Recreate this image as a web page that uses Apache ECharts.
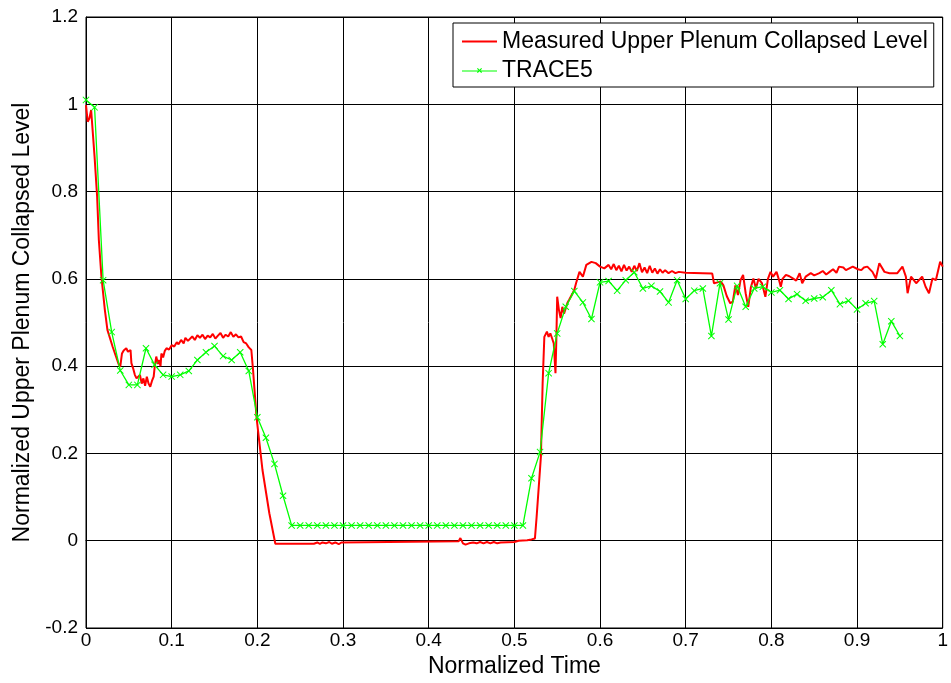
<!DOCTYPE html>
<html>
<head>
<meta charset="utf-8">
<script src="https://cdn.jsdelivr.net/npm/echarts@6/dist/echarts.min.js"></script>
<style>
html,body{margin:0;padding:0;background:#fff;}
#chart{width:951px;height:683px;}
</style>
</head>
<body>
<div id="chart"></div>
<script>
var xTicks = [0, 0.1, 0.2, 0.3, 0.4, 0.5, 0.6, 0.7, 0.8, 0.9, 1];
var yTicks = [-0.2, 0, 0.2, 0.4, 0.6, 0.8, 1, 1.2];

var measuredTime = [
0.000,0.002,0.004,0.006,0.008,0.010,0.013,0.015,0.018,0.022,0.025,0.031,0.035,0.038,0.040,0.042,0.044,0.047,0.049,0.052,
0.053,0.055,0.057,0.059,0.061,0.063,0.065,0.067,0.069,0.071,0.073,0.075,0.077,0.079,0.080,0.082,0.084,0.085,0.087,0.088,
0.090,0.092,0.094,0.097,0.100,0.103,0.106,0.108,0.111,0.114,0.116,0.119,0.121,0.124,0.127,0.130,0.133,0.136,0.139,0.142,
0.145,0.148,0.151,0.154,0.157,0.160,0.163,0.166,0.169,0.172,0.175,0.178,0.181,0.184,0.187,0.190,0.193,0.195,0.199,0.206,
0.214,0.221,0.262,0.264,0.266,0.270,0.273,0.276,0.280,0.284,0.287,0.291,0.295,0.298,0.300,0.435,0.437,0.440,0.443,0.447,
0.452,0.456,0.460,0.464,0.468,0.472,0.476,0.480,0.484,0.500,0.505,0.515,0.520,0.524,0.526,0.531,0.533,0.535,0.538,0.540,
0.542,0.544,0.546,0.548,0.549,0.550,0.552,0.554,0.556,0.558,0.560,0.562,0.564,0.566,0.568,0.570,0.572,0.576,0.580,0.584,
0.590,0.595,0.600,0.605,0.610,0.613,0.616,0.619,0.622,0.625,0.628,0.631,0.634,0.637,0.640,0.643,0.646,0.649,0.652,0.655,
0.658,0.661,0.664,0.667,0.670,0.673,0.676,0.680,0.684,0.688,0.692,0.700,0.720,0.731,0.733,0.737,0.741,0.744,0.748,0.752,
0.755,0.758,0.761,0.764,0.767,0.770,0.773,0.776,0.779,0.782,0.785,0.789,0.793,0.796,0.799,0.802,0.806,0.809,0.811,0.813,
0.817,0.821,0.825,0.829,0.833,0.836,0.840,0.846,0.850,0.856,0.860,0.864,0.868,0.872,0.876,0.879,0.884,0.887,0.891,0.895,
0.901,0.905,0.908,0.912,0.918,0.922,0.926,0.932,0.938,0.947,0.953,0.957,0.959,0.963,0.969,0.976,0.980,0.984,0.988,0.992,
0.997,1.000
];
var measuredLevel = [
0.998,0.960,0.968,0.987,0.987,0.880,0.788,0.689,0.605,0.529,0.483,0.445,0.422,0.405,0.399,0.429,0.436,0.441,0.433,0.437,
0.407,0.395,0.380,0.372,0.368,0.380,0.360,0.372,0.355,0.376,0.360,0.353,0.366,0.376,0.395,0.422,0.405,0.414,0.400,0.429,
0.420,0.435,0.441,0.438,0.448,0.445,0.455,0.450,0.460,0.452,0.465,0.458,0.462,0.468,0.460,0.471,0.465,0.472,0.462,0.470,
0.466,0.474,0.463,0.470,0.476,0.465,0.472,0.468,0.478,0.467,0.473,0.466,0.468,0.455,0.452,0.443,0.437,0.391,0.284,0.162,
0.063,-0.007,-0.007,-0.004,-0.007,-0.004,-0.007,-0.004,-0.006,-0.003,-0.007,-0.004,-0.008,-0.004,-0.001,-0.001,0.006,-0.006,-0.009,-0.006,
-0.004,-0.006,-0.003,-0.006,-0.003,-0.006,-0.003,-0.006,-0.004,-0.003,0.000,0.001,0.003,0.005,0.055,0.193,0.361,0.467,0.479,0.467,
0.475,0.464,0.452,0.384,0.460,0.559,0.529,0.510,0.536,0.520,0.533,0.545,0.552,0.548,0.567,0.575,0.590,0.616,0.605,0.632,
0.639,0.636,0.628,0.624,0.632,0.622,0.634,0.620,0.630,0.617,0.632,0.619,0.628,0.616,0.630,0.618,0.636,0.615,0.626,0.613,
0.630,0.614,0.624,0.612,0.622,0.614,0.620,0.613,0.618,0.613,0.616,0.614,0.613,0.612,0.590,0.592,0.594,0.585,0.560,0.544,
0.548,0.585,0.563,0.597,0.609,0.567,0.536,0.580,0.601,0.578,0.600,0.590,0.559,0.600,0.616,0.605,0.616,0.597,0.582,0.600,
0.609,0.606,0.601,0.596,0.613,0.590,0.605,0.613,0.608,0.613,0.618,0.610,0.616,0.622,0.614,0.628,0.626,0.620,0.624,0.628,
0.622,0.620,0.626,0.628,0.616,0.601,0.636,0.616,0.613,0.613,0.628,0.605,0.567,0.605,0.590,0.605,0.582,0.567,0.601,0.597,
0.639,0.628
];

var traceTime = [
0.00,0.01,0.02,0.03,0.04,0.05,0.06,0.07,0.08,0.09,0.10,0.11,0.12,0.13,0.14,0.15,0.16,0.17,0.18,0.19,
0.20,0.21,0.22,0.23,0.24,0.25,0.26,0.27,0.28,0.29,0.30,0.31,0.32,0.33,0.34,0.35,0.36,0.37,0.38,0.39,
0.40,0.41,0.42,0.43,0.44,0.45,0.46,0.47,0.48,0.49,0.50,0.51,0.52,0.53,0.54,0.55,0.56,0.57,0.58,0.59,
0.60,0.61,0.62,0.63,0.64,0.65,0.66,0.67,0.68,0.69,0.70,0.71,0.72,0.73,0.74,0.75,0.76,0.77,0.78,0.79,
0.80,0.81,0.82,0.83,0.84,0.85,0.86,0.87,0.88,0.89,0.90,0.91,0.92,0.93,0.94,0.95
];
var traceLevel = [
1.010,0.993,0.597,0.478,0.390,0.357,0.357,0.441,0.403,0.380,0.376,0.380,0.389,0.414,0.432,0.446,0.423,0.414,0.432,0.389,
0.283,0.236,0.176,0.103,0.035,0.035,0.035,0.035,0.035,0.035,0.035,0.035,0.035,0.035,0.035,0.035,0.035,0.035,0.035,0.035,
0.035,0.035,0.035,0.035,0.035,0.035,0.035,0.035,0.035,0.035,0.035,0.035,0.143,0.203,0.384,0.475,0.536,0.572,0.546,0.508,
0.592,0.595,0.573,0.597,0.615,0.578,0.584,0.571,0.546,0.597,0.554,0.573,0.578,0.469,0.590,0.507,0.584,0.536,0.578,0.582,
0.569,0.574,0.554,0.565,0.550,0.555,0.558,0.574,0.542,0.550,0.530,0.544,0.549,0.450,0.503,0.469
];

function pairs(xs, ys){ return xs.map(function(x,i){ return [x, ys[i]]; }); }

var FONT = "'Liberation Sans', Arial, sans-serif";
var xSymbol = 'path://M0,1L1,0L5,4L9,0L10,1L6,5L10,9L9,10L5,6L1,10L0,9L4,5Z';
var redLegendIcon = 'path://M0,9L35,9L35,11L0,11Z';
var greenLegendIcon = 'path://M0,9.4L35,9.4L35,10.6L0,10.6Z M15,7.8L15.8,7L17.5,8.7L19.2,7L20,7.8L18.3,9.5L20,11.2L19.2,12L17.5,10.3L15.8,12L15,11.2L16.7,9.5Z';

var chart = echarts.init(document.getElementById('chart'), null, {renderer:'canvas'});
chart.setOption({
  animation: false,
  backgroundColor: '#ffffff',
  textStyle: {fontFamily: FONT},
  grid: {left: 86, right: 7, top: 17, bottom: 55, show: true, borderColor: '#000', borderWidth: 1, backgroundColor: 'transparent'},
  legend: {
    left: 453, top: 23,
    orient: 'vertical',
    backgroundColor: '#fff',
    borderColor: '#000', borderWidth: 1,
    padding: [7, 6, 5, 9],
    itemGap: 6,
    itemWidth: 35, itemHeight: 20,
    textStyle: {fontFamily: FONT, fontSize: 23, color: '#000'},
    data: [
      {name: 'Measured Upper Plenum Collapsed Level', icon: redLegendIcon, itemStyle: {color: '#ff0000'}},
      {name: 'TRACE5', icon: greenLegendIcon, itemStyle: {color: '#00ff00'}}
    ]
  },
  xAxis: {
    type: 'value', min: xTicks[0], max: xTicks[xTicks.length-1], interval: 0.1,
    name: 'Normalized Time', nameLocation: 'middle', nameGap: 26,
    nameTextStyle: {fontFamily: FONT, fontSize: 23, color: '#000'},
    axisLine: {show: true, lineStyle: {color: '#000', width: 1}},
    axisTick: {show: true, inside: true, length: 5, lineStyle: {color: '#000'}},
    axisLabel: {fontFamily: FONT, fontSize: 19, color: '#000', margin: 3},
    splitLine: {show: true, lineStyle: {color: '#000', width: 1}}
  },
  yAxis: {
    type: 'value', min: yTicks[0], max: yTicks[yTicks.length-1], interval: 0.2,
    name: 'Normalized Upper Plenum Collapsed Level', nameLocation: 'middle', nameGap: 52,
    nameTextStyle: {fontFamily: FONT, fontSize: 23, color: '#000'},
    axisLine: {show: true, lineStyle: {color: '#000', width: 1}},
    axisTick: {show: true, inside: true, length: 5, lineStyle: {color: '#000'}},
    axisLabel: {fontFamily: FONT, fontSize: 19, color: '#000', margin: 8,
      formatter: function(v){ return String(Math.round(v*10)/10); }},
    splitLine: {show: true, lineStyle: {color: '#000', width: 1}}
  },
  series: [
    {
      name: 'Measured Upper Plenum Collapsed Level',
      type: 'line',
      data: pairs(measuredTime, measuredLevel),
      showSymbol: false, symbol: 'none',
      lineStyle: {color: '#ff0000', width: 2},
      itemStyle: {color: '#ff0000'},
      z: 3
    },
    {
      name: 'TRACE5',
      type: 'line',
      data: pairs(traceTime, traceLevel),
      symbol: xSymbol, symbolSize: 7,
      lineStyle: {color: '#00ff00', width: 1.3},
      itemStyle: {color: '#00ff00'},
      z: 4
    }
  ]
});
</script>
</body>
</html>
